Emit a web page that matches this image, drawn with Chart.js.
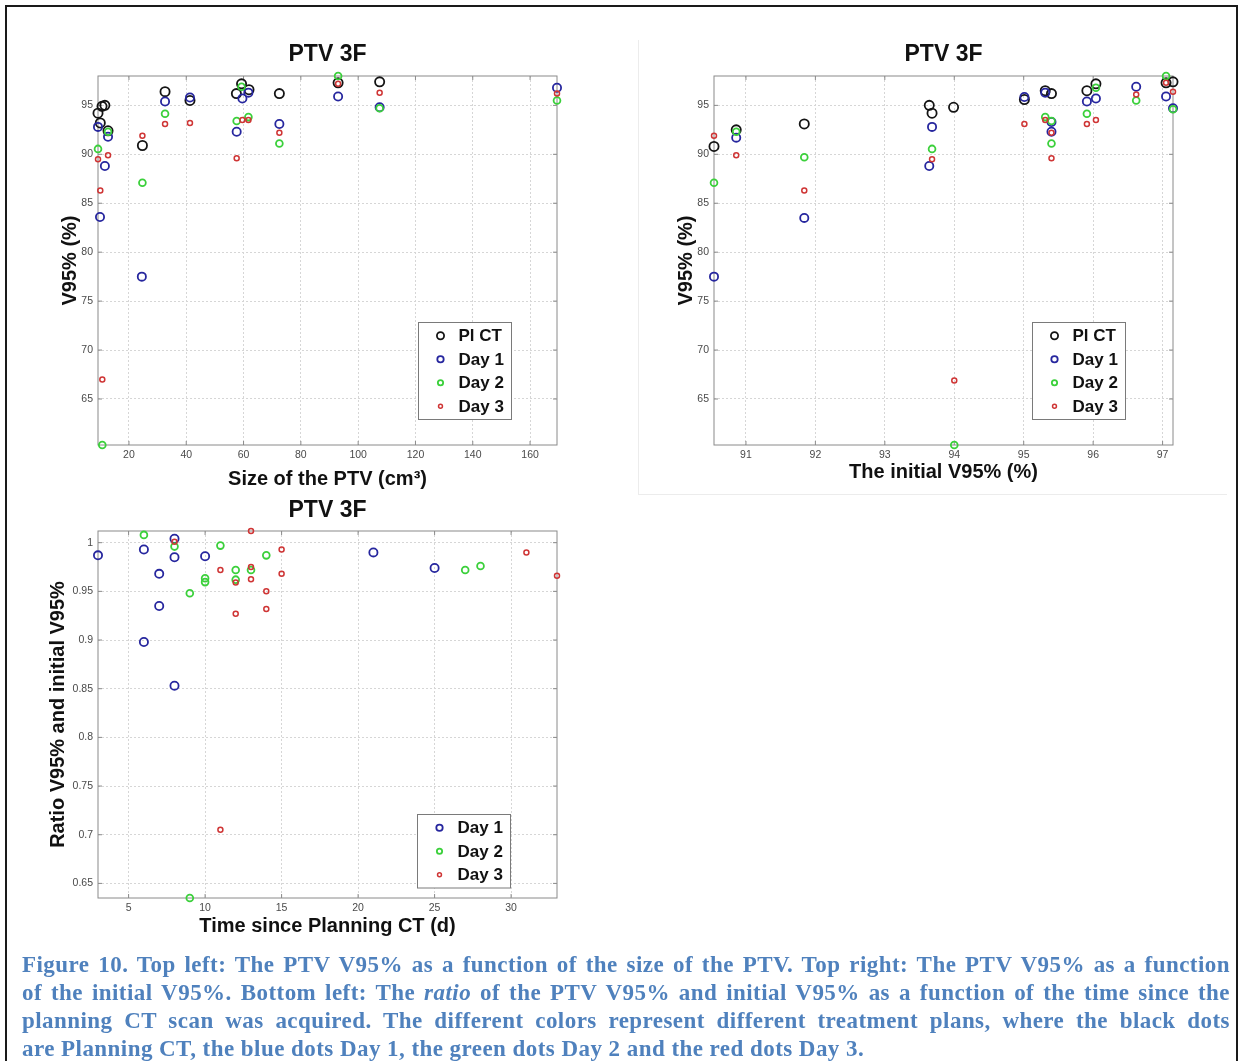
<!DOCTYPE html>
<html>
<head>
<meta charset="utf-8">
<title>PTV 3F</title>
<script src="https://cdn.jsdelivr.net/npm/chart.js@4.4.1/dist/chart.umd.min.js"></script>
<style>
  html, body { margin: 0; padding: 0; background: #fff; }
  body { width: 1243px; height: 1061px; position: relative; overflow: hidden; }
  .frame { position: absolute; left: 5px; top: 5px; width: 1229px; height: 1080px; border: 2px solid #1a1a1a; border-bottom: none; }
  .panel-edge { position: absolute; left: 638px; top: 40px; width: 588px; height: 454px; border-left: 1px solid #ececec; border-bottom: 1px solid #ececec; }
  .plot { position: absolute; }
  .caption { position: absolute; left: 22px; top: 951px; width: 1208px; font: bold 23px "Liberation Serif", serif; letter-spacing: 0.45px; color: #4f81bd; line-height: 28px; }
  .caption .j { text-align: justify; text-align-last: justify; }
</style>
</head>
<body>
<div class="frame"></div>
<div class="panel-edge"></div>
<canvas id="sizePlot" class="plot" width="580" height="480" style="left:20px;top:30px;"></canvas>
<canvas id="initPlot" class="plot" width="560" height="480" style="left:640px;top:30px;"></canvas>
<canvas id="timePlot" class="plot" width="580" height="470" style="left:20px;top:485px;"></canvas>
<div class="caption">
  <div class="j">Figure 10. Top left: The PTV V95% as a function of the size of the PTV. Top right: The PTV V95% as a function</div>
  <div class="j">of the initial V95%. Bottom left: The <i>ratio</i> of the PTV V95% and initial V95% as a function of the time since the</div>
  <div class="j">planning CT scan was acquired. The different colors represent different treatment plans, where the black dots</div>
  <div>are Planning CT, the blue dots Day 1, the green dots Day 2 and the red dots Day 3.</div>
</div>
<script>
// V95% against PTV size (cm3)
const sizePlCt = [9.2, 10.0, 10.6, 11.6, 12.7, 24.7, 32.6, 41.3, 57.5, 59.3, 61.9, 72.5, 93.0, 107.5];
const v95PlCtBySize = [94.2, 93.2, 94.9, 95.0, 92.4, 90.9, 96.4, 95.5, 96.2, 97.2, 96.6, 96.2, 97.3, 97.4];
const sizeDay1 = [9.2, 9.9, 11.6, 12.7, 24.5, 32.6, 41.3, 57.6, 59.6, 61.7, 72.5, 93.0, 107.5, 169.4];
const v95Day1BySize = [92.8, 83.6, 88.8, 91.8, 77.5, 95.4, 95.8, 92.3, 95.7, 96.3, 93.1, 95.9, 94.8, 96.8];
const sizeDay2 = [9.2, 10.7, 12.7, 24.7, 32.6, 57.6, 59.3, 61.7, 72.5, 93.0, 107.5, 169.4];
const v95Day2BySize = [90.55, 60.3, 92.3, 87.1, 94.15, 93.4, 96.9, 93.8, 91.1, 98.0, 94.7, 95.5];
const sizeDay3 = [9.2, 10.0, 10.7, 12.7, 24.7, 32.6, 41.3, 57.6, 59.6, 61.7, 72.5, 93.0, 107.5, 169.4];
const v95Day3BySize = [89.5, 86.3, 67.0, 89.9, 91.9, 93.1, 93.2, 89.6, 93.5, 93.5, 92.2, 97.2, 96.3, 96.2];

// V95% against the initial V95% (%)
const initPlCt = [90.54, 90.86, 91.84, 93.64, 93.68, 93.99, 95.01, 95.31, 95.40, 95.91, 96.04, 97.05, 97.15];
const v95PlCtByInit = [90.8, 92.5, 93.1, 95.0, 94.2, 94.8, 95.6, 96.5, 96.2, 96.5, 97.2, 97.3, 97.4];
const initDay1 = [90.54, 90.86, 91.84, 93.68, 93.64, 95.01, 95.31, 95.40, 95.40, 95.91, 96.04, 96.62, 97.05, 97.15];
const v95Day1ByInit = [77.5, 91.7, 83.5, 92.8, 88.8, 95.85, 96.3, 93.3, 92.3, 95.4, 95.7, 96.9, 95.9, 94.7];
const initDay2 = [90.54, 90.86, 91.84, 93.68, 94.0, 95.31, 95.40, 95.40, 95.91, 96.04, 96.62, 97.05, 97.15];
const v95Day2ByInit = [87.1, 92.3, 89.7, 90.55, 60.3, 93.8, 93.4, 91.1, 94.15, 96.8, 95.5, 98.0, 94.6];
const initDay3 = [90.54, 90.86, 91.84, 93.68, 94.0, 95.01, 95.31, 95.40, 95.40, 95.91, 96.04, 96.62, 97.05, 97.15];
const v95Day3ByInit = [91.9, 89.9, 86.3, 89.5, 66.9, 93.1, 93.5, 92.2, 89.6, 93.1, 93.5, 96.1, 97.3, 96.4];

// ratio of V95% to initial V95% against days since planning CT
const daysDay1 = [3, 6, 6, 7, 7, 8, 8, 8, 10, 21, 25];
const ratioDay1 = [0.987, 0.993, 0.898, 0.968, 0.935, 1.004, 0.985, 0.853, 0.986, 0.990, 0.974];
const daysDay2 = [6, 8, 9, 9, 10, 10, 11, 12, 12, 13, 14, 27, 28];
const ratioDay2 = [1.008, 0.996, 0.948, 0.635, 0.9635, 0.9595, 0.997, 0.972, 0.962, 0.972, 0.987, 0.972, 0.976];
const daysDay3 = [8, 11, 11, 12, 12, 13, 13, 13, 14, 14, 15, 15, 31, 33];
const ratioDay3 = [1.001, 0.972, 0.705, 0.959, 0.927, 1.012, 0.975, 0.9625, 0.950, 0.932, 0.993, 0.968, 0.990, 0.966];

const seriesLabels = ['Pl CT', 'Day 1', 'Day 2', 'Day 3'];
const sizeTicks = [20, 40, 60, 80, 100, 120, 140, 160];
const initTicks = [91, 92, 93, 94, 95, 96, 97];
const dayTicks = [5, 10, 15, 20, 25, 30];
const v95Ticks = [65, 70, 75, 80, 85, 90, 95];
const ratioTicks = [0.65, 0.7, 0.75, 0.8, 0.85, 0.9, 0.95, 1];

const FONT = "'Liberation Sans', Arial, sans-serif";

// matlab-ish open circle markers, later days drawn on top
const markers = [
    { color: '#141414', radius: 4.6, width: 1.8 },
    { color: '#26269e', radius: 4.1, width: 1.8 },
    { color: '#3bd03b', radius: 3.4, width: 1.8 },
    { color: '#cf3535', radius: 2.5, width: 1.5 },
];

const series = (idx, xs, ys) => ({
    label: seriesLabels[idx],
    data: xs.map((x, i) => ({ x, y: ys[i] })),
    borderColor: markers[idx].color,
    backgroundColor: 'rgba(0,0,0,0)',
    pointRadius: markers[idx].radius,
    pointHoverRadius: markers[idx].radius,
    pointBorderWidth: markers[idx].width,
    pointBorderColor: markers[idx].color,
    pointBackgroundColor: 'rgba(0,0,0,0)',
    order: 3 - idx,
    clip: false,
});

// axes box with inward tick marks on all four sides
const axesBox = {
    id: 'axesBox',
    beforeDatasetsDraw(chart) {
        const { ctx, chartArea: a, scales: { x, y } } = chart;
        ctx.save();
        ctx.strokeStyle = '#8a8a8a';
        ctx.lineWidth = 1;
        ctx.strokeRect(a.left, a.top, a.right - a.left, a.bottom - a.top);
        ctx.beginPath();
        x.ticks.forEach(t => {
            const px = x.getPixelForValue(t.value);
            ctx.moveTo(px, a.bottom); ctx.lineTo(px, a.bottom - 4);
            ctx.moveTo(px, a.top); ctx.lineTo(px, a.top + 4);
        });
        y.ticks.forEach(t => {
            const py = y.getPixelForValue(t.value);
            ctx.moveTo(a.left, py); ctx.lineTo(a.left + 4, py);
            ctx.moveTo(a.right, py); ctx.lineTo(a.right - 4, py);
        });
        ctx.stroke();
        ctx.restore();
    }
};

// boxed legend sitting inside the lower right of the axes
const boxLegend = {
    id: 'boxLegend',
    afterDraw(chart, args, opts) {
        const { ctx, chartArea: a } = chart;
        const sets = chart.data.datasets;
        const rowH = 23.5, padY = 1.5, w = 93;
        const h = sets.length * rowH + padY * 2;
        const x0 = Math.round(a.right - opts.right - w) + 0.5;
        const y0 = Math.round(a.bottom - opts.bottom - h) + 0.5;
        ctx.save();
        ctx.fillStyle = '#fff';
        ctx.fillRect(x0, y0, w, h);
        ctx.strokeStyle = '#7a7a7a';
        ctx.lineWidth = 1;
        ctx.strokeRect(x0, y0, w, h);
        ctx.font = 'bold 17px ' + FONT;
        ctx.textBaseline = 'middle';
        ctx.textAlign = 'left';
        sets.forEach((ds, i) => {
            const cy = y0 + padY + rowH * (i + 0.5);
            ctx.beginPath();
            ctx.arc(x0 + 22, cy, ds.pointRadius * 0.78, 0, Math.PI * 2);
            ctx.strokeStyle = ds.borderColor;
            ctx.lineWidth = ds.pointBorderWidth;
            ctx.stroke();
            ctx.fillStyle = '#111';
            ctx.fillText(ds.label, x0 + 40, cy + 1);
        });
        ctx.restore();
    }
};

const axis = (cfg) => ({
    type: 'linear',
    min: cfg.min,
    max: cfg.max,
    afterBuildTicks: s => { s.ticks = cfg.ticks.map(v => ({ value: v })); },
    afterFit: s => { if (cfg.height) s.height = cfg.height; if (cfg.width) s.width = cfg.width; },
    ticks: {
        color: '#4a4a4a', font: { family: FONT, size: 10.5 }, padding: cfg.tickPad,
        maxRotation: 0, autoSkip: false,
        callback: v => String(+v.toFixed(3)),
    },
    grid: { color: '#d6d6d6', lineWidth: 1, drawTicks: false },
    border: { display: false, dash: [2, 2] },
    title: {
        display: true, text: cfg.title, color: '#111',
        font: { family: FONT, size: 20, weight: 'bold', lineHeight: 1.2 },
        padding: cfg.titlePad,
    },
});

function scatterPlot(id, cfg) {
    return new Chart(document.getElementById(id), {
        type: 'scatter',
        data: { datasets: cfg.datasets },
        options: {
            responsive: false,
            animation: false,
            events: [],
            layout: { padding: { left: 0, right: cfg.padRight, top: 0, bottom: 0 } },
            plugins: {
                legend: { display: false },
                tooltip: { enabled: false },
                title: {
                    display: true, text: 'PTV 3F', fullSize: false, color: '#111',
                    font: { family: FONT, size: 23, weight: 'bold', lineHeight: 1.2 },
                    padding: { top: cfg.titleTop, bottom: cfg.titleBottom },
                },
                boxLegend: cfg.legend,
            },
            scales: { x: axis(cfg.x), y: axis(cfg.y) },
        },
        plugins: [axesBox, boxLegend],
    });
}

scatterPlot('sizePlot', {
    datasets: [
        series(0, sizePlCt, v95PlCtBySize),
        series(1, sizeDay1, v95Day1BySize),
        series(2, sizeDay2, v95Day2BySize),
        series(3, sizeDay3, v95Day3BySize),
    ],
    padRight: 43, titleTop: 11, titleBottom: 7.4,
    legend: { right: 46, bottom: 26 },
    x: { min: 9.2, max: 169.4, ticks: sizeTicks, height: 65, tickPad: 4, title: 'Size of the PTV (cm³)', titlePad: { bottom: 19 } },
    y: { min: 60.3, max: 98.0, ticks: v95Ticks, width: 78, tickPad: 5, title: 'V95% (%)', titlePad: { top: 38 } },
});

scatterPlot('initPlot', {
    datasets: [
        series(0, initPlCt, v95PlCtByInit),
        series(1, initDay1, v95Day1ByInit),
        series(2, initDay2, v95Day2ByInit),
        series(3, initDay3, v95Day3ByInit),
    ],
    padRight: 27, titleTop: 11, titleBottom: 7.4,
    legend: { right: 48, bottom: 26 },
    x: { min: 90.54, max: 97.15, ticks: initTicks, height: 65, tickPad: 4, title: 'The initial V95% (%)', titlePad: { bottom: 26 } },
    y: { min: 60.3, max: 98.0, ticks: v95Ticks, width: 74, tickPad: 5, title: 'V95% (%)', titlePad: { top: 34 } },
});

scatterPlot('timePlot', {
    datasets: [
        series(1, daysDay1, ratioDay1),
        series(2, daysDay2, ratioDay2),
        series(3, daysDay3, ratioDay3),
    ],
    padRight: 43, titleTop: 12, titleBottom: 6.4,
    legend: { right: 47, bottom: 11 },
    x: { min: 3, max: 33, ticks: dayTicks, height: 57, tickPad: 4, title: 'Time since Planning CT (d)', titlePad: { bottom: 17 } },
    y: { min: 0.635, max: 1.012, ticks: ratioTicks, width: 78, tickPad: 5, title: 'Ratio V95% and initial V95%', titlePad: { top: 26 } },
});
</script>
</body>
</html>
